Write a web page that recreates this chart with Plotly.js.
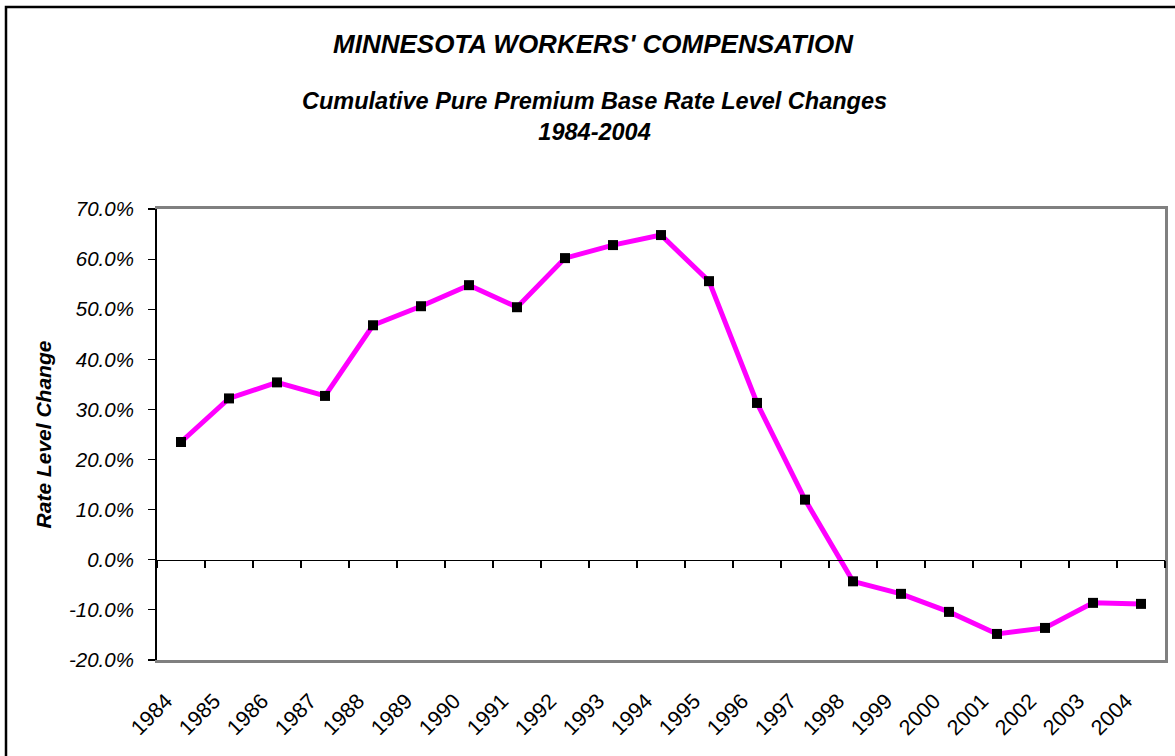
<!DOCTYPE html>
<html>
<head>
<meta charset="utf-8">
<script src="https://cdn.plot.ly/plotly-3.0.1.min.js"></script>
<style>html,body{margin:0;padding:0;background:#fff;}#chart{width:1175px;height:756px;}</style>
</head>
<body>
<div id="chart"></div>
<script>
const years = ['1984','1985','1986','1987','1988','1989','1990','1991','1992','1993','1994','1995','1996','1997','1998','1999','2000','2001','2002','2003','2004'];
const rateChange = [0.235,0.322,0.354,0.327,0.468,0.506,0.548,0.504,0.602,0.628,0.648,0.556,0.313,0.120,-0.043,-0.068,-0.104,-0.148,-0.136,-0.086,-0.088];
const yTickVals = [-0.2,-0.1,0,0.1,0.2,0.3,0.4,0.5,0.6,0.7];
const yTickText = yTickVals.map(v => (v*100).toFixed(1) + '%');
const yRange = [-0.2, 0.7];

const FONT = 'Arial, "Liberation Sans", sans-serif';
const W = 1175, H = 756;
const M = {l:157, r:10, t:209, b:96};
const pw = W - M.l - M.r, ph = H - M.t - M.b;
const px2x = p => (p - M.l) / pw;
const py2y = p => (H - M.b - p) / ph;

const traces = [
  { x: years, y: rateChange, xaxis:'x', yaxis:'y', type:'scatter', mode:'lines',
    line:{color:'rgba(0,0,0,0)', width:0}, hoverinfo:'skip', showlegend:false },
  { x: years, y: rateChange, xaxis:'x2', yaxis:'y2', type:'scatter', mode:'lines+markers',
    line:{color:'#FF00FF', width:5},
    marker:{symbol:'square', size:10, color:'#000000', line:{width:0}},
    showlegend:false, name:'Rate Level Change' }
];

const layout = {
  width: W, height: H,
  margin: M,
  paper_bgcolor:'#ffffff', plot_bgcolor:'#ffffff',
  font:{family:FONT, color:'#000'},
  showlegend:false,
  title:{ text:'<b><i>MINNESOTA WORKERS\' COMPENSATION</i></b>', font:{family:FONT, size:26, color:'#000'},
    xref:'container', x: 593/W, xanchor:'center', yref:'container', y: 1 - 44/H, yanchor:'middle' },
  annotations:[
    { text:'<b><i>Cumulative Pure Premium Base Rate Level Changes<br>1984-2004</i></b>',
      xref:'paper', yref:'paper', x: px2x(594), y: py2y(117), xanchor:'center', yanchor:'middle',
      showarrow:false, font:{family:FONT, size:23.5, color:'#000'} }
  ],
  xaxis:{ type:'category', categoryorder:'array', categoryarray: years, range:[-0.5, years.length-0.5],
    showline:true, linecolor:'#808080', linewidth:3, mirror:true,
    ticks:'', showgrid:false, zeroline:false, tickangle:-45,
    tickfont:{family:FONT, size:21.5, color:'#000'}, ticklabelstandoff:17, ticklabelshift:-15,
    fixedrange:true },
  xaxis2:{ type:'category', categoryorder:'array', categoryarray: years, range:[-0.5, years.length-0.5],
    overlaying:'x', anchor:'free', position:(0 - yRange[0])/(yRange[1]-yRange[0]), side:'bottom',
    showline:true, linecolor:'#000', linewidth:1.2,
    tickson:'boundaries', ticks:'outside', ticklen:7, tickwidth:1.2, tickcolor:'#000',
    showticklabels:false, showgrid:false, zeroline:false, fixedrange:true },
  yaxis:{ range:yRange, tickmode:'array', tickvals:yTickVals, ticktext:yTickText,
    showline:true, linecolor:'#000', linewidth:2,
    ticks:'outside', ticklen:7, tickwidth:1.2, tickcolor:'#000',
    showgrid:false, zeroline:false,
    tickfont:{family:FONT, size:20.5, color:'#000', style:'italic'}, ticklabelstandoff:10,
    title:{ text:'<b><i>Rate Level Change</i></b>', font:{family:FONT, size:21, color:'#000'}, standoff:12 },
    fixedrange:true },
  yaxis2:{ range:yRange, overlaying:'y', side:'right', showline:true, linecolor:'#808080', linewidth:3,
    ticks:'', showticklabels:false, showgrid:false, zeroline:false, fixedrange:true },
  shapes:[
    { type:'rect', xref:'paper', yref:'paper', x0:px2x(6), x1:px2x(1185), y0:py2y(770), y1:py2y(7),
      line:{color:'#000', width:2.5}, fillcolor:'rgba(0,0,0,0)', layer:'below' }
  ]
};

Plotly.newPlot('chart', traces, layout, {staticPlot:true, displayModeBar:false});
</script>
</body>
</html>
